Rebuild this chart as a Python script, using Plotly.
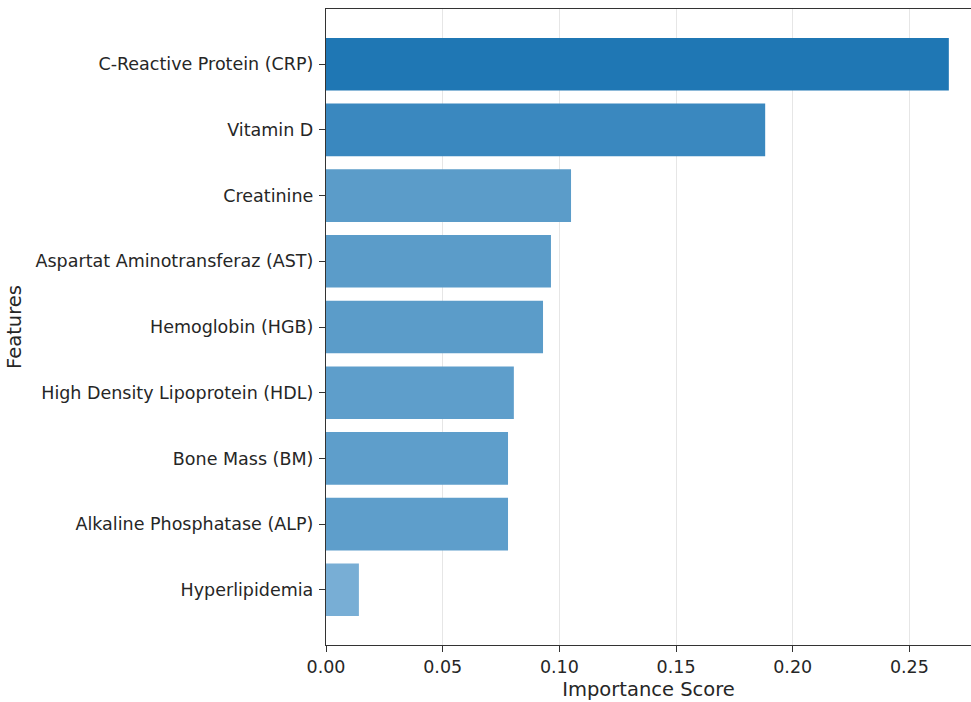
import plotly.graph_objects as go

features = [
    "C-Reactive Protein (CRP)",
    "Vitamin D",
    "Creatinine",
    "Aspartat Aminotransferaz (AST)",
    "Hemoglobin (HGB)",
    "High Density Lipoprotein (HDL)",
    "Bone Mass (BM)",
    "Alkaline Phosphatase (ALP)",
    "Hyperlipidemia",
]
importance = [0.2669, 0.1882, 0.1050, 0.0964, 0.0930, 0.0805, 0.0780, 0.0780, 0.0141]
bar_colors = ["#1f77b4", "#3a88bf", "#5b9cc9", "#5b9cc9", "#5b9cc9",
              "#5e9ecb", "#5e9ecb", "#5e9ecb", "#78aed5"]
x_ticks = [0.0, 0.05, 0.10, 0.15, 0.20, 0.25]

FONT = "DejaVu Sans"

fig = go.Figure(
    go.Bar(
        x=importance,
        y=features,
        orientation="h",
        width=0.8,
        marker=dict(color=bar_colors, line=dict(width=0)),
    )
)

fig.update_layout(
    width=971,
    height=702,
    margin=dict(l=326, r=0, t=9, b=57),
    plot_bgcolor="white",
    paper_bgcolor="white",
    showlegend=False,
    font=dict(family=FONT, size=17.5, color="#262626"),
)

fig.update_xaxes(
    range=[0, 0.2764],
    tickvals=x_ticks,
    tickformat=".2f",
    showgrid=True,
    gridcolor="#e6e6e6",
    gridwidth=1,
    showline=True,
    linecolor="#333333",
    linewidth=1.3,
    mirror=True,
    ticks="outside",
    ticklen=6,
    tickcolor="#333333",
    zeroline=False,
    tickfont=dict(size=17.5),
    title=dict(text="Importance Score", font=dict(size=19.5), standoff=6),
)

fig.update_yaxes(
    categoryorder="array",
    categoryarray=features,
    range=[8.84, -0.84],
    showgrid=False,
    showline=True,
    linecolor="#333333",
    linewidth=1.3,
    ticks="outside",
    ticklen=6,
    tickcolor="#333333",
    ticklabelstandoff=2,
    zeroline=False,
    tickfont=dict(size=17.5),
    title=dict(text="Features", font=dict(size=19.5), standoff=8),
)

fig.write_html(
    "out.html",
    config={"displayModeBar": False},
    post_script="document.body.style.margin='0';document.body.style.overflow='hidden';",
)
